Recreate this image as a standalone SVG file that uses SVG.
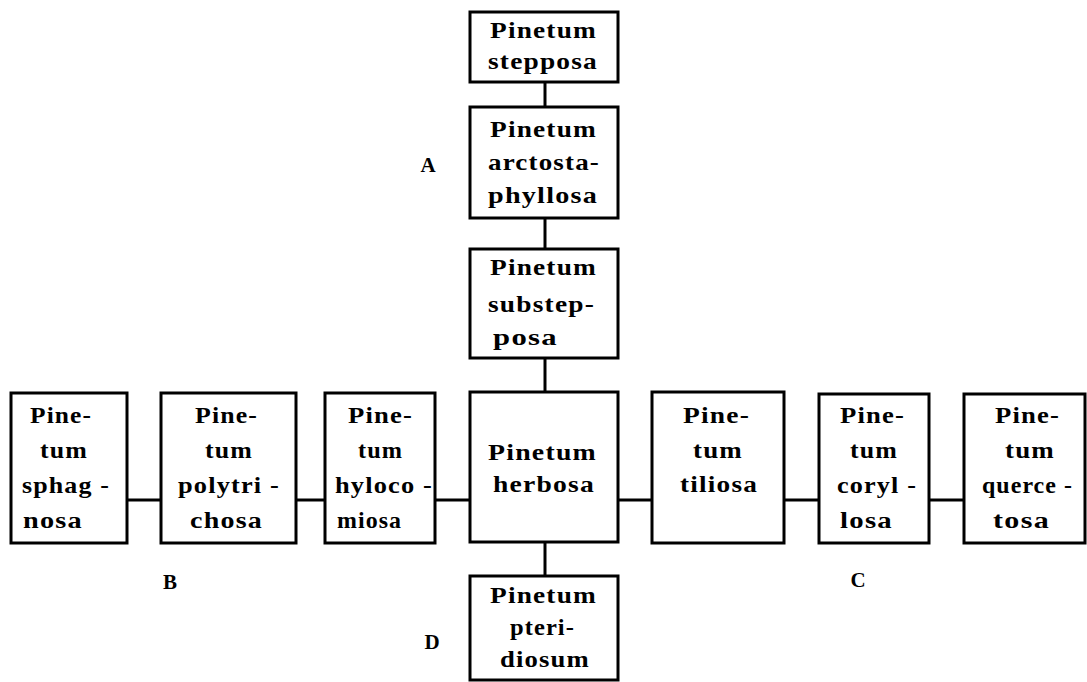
<svg xmlns="http://www.w3.org/2000/svg" width="1087" height="682" viewBox="0 0 1087 682">
<style>
.box{fill:#fff;stroke:#000;stroke-width:3}
.t{font-family:"Liberation Serif","Times New Roman",serif;font-weight:bold;font-size:23px;letter-spacing:1px;fill:#000}
.l{font-family:"Liberation Serif","Times New Roman",serif;font-weight:bold;font-size:21px;fill:#000}
.c line{stroke:#000;stroke-width:3}
</style>
<rect width="1087" height="682" fill="#fff"/>
<g class="c" id="connectors">
<line x1="545" y1="82" x2="545" y2="107"/>
<line x1="545" y1="218" x2="545" y2="249"/>
<line x1="545" y1="358" x2="545" y2="392"/>
<line x1="545" y1="542" x2="545" y2="576"/>
<line x1="127" y1="500" x2="161" y2="500"/>
<line x1="296" y1="500" x2="325" y2="500"/>
<line x1="435" y1="500" x2="470" y2="500"/>
<line x1="618" y1="500" x2="652" y2="500"/>
<line x1="784" y1="500" x2="819" y2="500"/>
<line x1="929" y1="500" x2="964" y2="500"/>
</g>
<g id="stepposa"><rect class="box" x="470" y="12" width="148" height="70"/>
<text class="t" x="490" y="38" textLength="107" lengthAdjust="spacingAndGlyphs">Pinetum</text>
<text class="t" x="488" y="69" textLength="110" lengthAdjust="spacingAndGlyphs">stepposa</text></g>
<g id="arctostaphyllosa"><rect class="box" x="470" y="107" width="148" height="111"/>
<text class="t" x="490" y="137" textLength="107" lengthAdjust="spacingAndGlyphs">Pinetum</text>
<text class="t" x="488" y="170" textLength="112" lengthAdjust="spacingAndGlyphs">arctosta-</text>
<text class="t" x="488" y="203" textLength="110" lengthAdjust="spacingAndGlyphs">phyllosa</text></g>
<g id="substepposa"><rect class="box" x="470" y="249" width="148" height="109"/>
<text class="t" x="490" y="275" textLength="107" lengthAdjust="spacingAndGlyphs">Pinetum</text>
<text class="t" x="488" y="312" textLength="107" lengthAdjust="spacingAndGlyphs">substep-</text>
<text class="t" x="493" y="345" textLength="65" lengthAdjust="spacingAndGlyphs">posa</text></g>
<g id="herbosa"><rect class="box" x="470" y="392" width="148" height="150"/>
<text class="t" x="488" y="460" textLength="109" lengthAdjust="spacingAndGlyphs">Pinetum</text>
<text class="t" x="493" y="492" textLength="102" lengthAdjust="spacingAndGlyphs">herbosa</text></g>
<g id="pteridiosum"><rect class="box" x="470" y="576" width="148" height="104"/>
<text class="t" x="490" y="603" textLength="107" lengthAdjust="spacingAndGlyphs">Pinetum</text>
<text class="t" x="510" y="635" textLength="65" lengthAdjust="spacingAndGlyphs">pteri-</text>
<text class="t" x="500" y="667" textLength="90" lengthAdjust="spacingAndGlyphs">diosum</text></g>
<g id="sphagnosa"><rect class="box" x="11" y="393" width="116" height="150"/>
<text class="t" x="30" y="423" textLength="62" lengthAdjust="spacingAndGlyphs">Pine-</text>
<text class="t" x="40" y="458" textLength="48" lengthAdjust="spacingAndGlyphs">tum</text>
<text class="t" x="22" y="493" textLength="88" lengthAdjust="spacingAndGlyphs">sphag -</text>
<text class="t" x="23" y="528" textLength="60" lengthAdjust="spacingAndGlyphs">nosa</text></g>
<g id="polytrichosa"><rect class="box" x="161" y="393" width="135" height="150"/>
<text class="t" x="195" y="423" textLength="63" lengthAdjust="spacingAndGlyphs">Pine-</text>
<text class="t" x="205" y="458" textLength="48" lengthAdjust="spacingAndGlyphs">tum</text>
<text class="t" x="178" y="493" textLength="102" lengthAdjust="spacingAndGlyphs">polytri -</text>
<text class="t" x="190" y="528" textLength="73" lengthAdjust="spacingAndGlyphs">chosa</text></g>
<g id="hylocomiosa"><rect class="box" x="325" y="393" width="110" height="150"/>
<text class="t" x="348" y="423" textLength="65" lengthAdjust="spacingAndGlyphs">Pine-</text>
<text class="t" x="358" y="458" textLength="45" lengthAdjust="spacingAndGlyphs">tum</text>
<text class="t" x="335" y="493" textLength="98" lengthAdjust="spacingAndGlyphs">hyloco -</text>
<text class="t" x="337" y="528" textLength="65" lengthAdjust="spacingAndGlyphs">miosa</text></g>
<g id="tiliosa"><rect class="box" x="652" y="392" width="132" height="151"/>
<text class="t" x="683" y="423" textLength="67" lengthAdjust="spacingAndGlyphs">Pine-</text>
<text class="t" x="693" y="458" textLength="50" lengthAdjust="spacingAndGlyphs">tum</text>
<text class="t" x="680" y="492" textLength="78" lengthAdjust="spacingAndGlyphs">tiliosa</text></g>
<g id="coryllosa"><rect class="box" x="819" y="394" width="110" height="149"/>
<text class="t" x="840" y="423" textLength="65" lengthAdjust="spacingAndGlyphs">Pine-</text>
<text class="t" x="850" y="458" textLength="48" lengthAdjust="spacingAndGlyphs">tum</text>
<text class="t" x="837" y="493" textLength="80" lengthAdjust="spacingAndGlyphs">coryl -</text>
<text class="t" x="840" y="528" textLength="53" lengthAdjust="spacingAndGlyphs">losa</text></g>
<g id="quercetosa"><rect class="box" x="964" y="394" width="121" height="149"/>
<text class="t" x="995" y="423" textLength="65" lengthAdjust="spacingAndGlyphs">Pine-</text>
<text class="t" x="1005" y="458" textLength="50" lengthAdjust="spacingAndGlyphs">tum</text>
<text class="t" x="982" y="493" textLength="91" lengthAdjust="spacingAndGlyphs">querce -</text>
<text class="t" x="993" y="528" textLength="57" lengthAdjust="spacingAndGlyphs">tosa</text></g>
<g id="labels">
<text class="l" x="428" y="172" text-anchor="middle">A</text>
<text class="l" x="170" y="589" text-anchor="middle">B</text>
<text class="l" x="858" y="587" text-anchor="middle">C</text>
<text class="l" x="432" y="649" text-anchor="middle">D</text>
</g>
</svg>
